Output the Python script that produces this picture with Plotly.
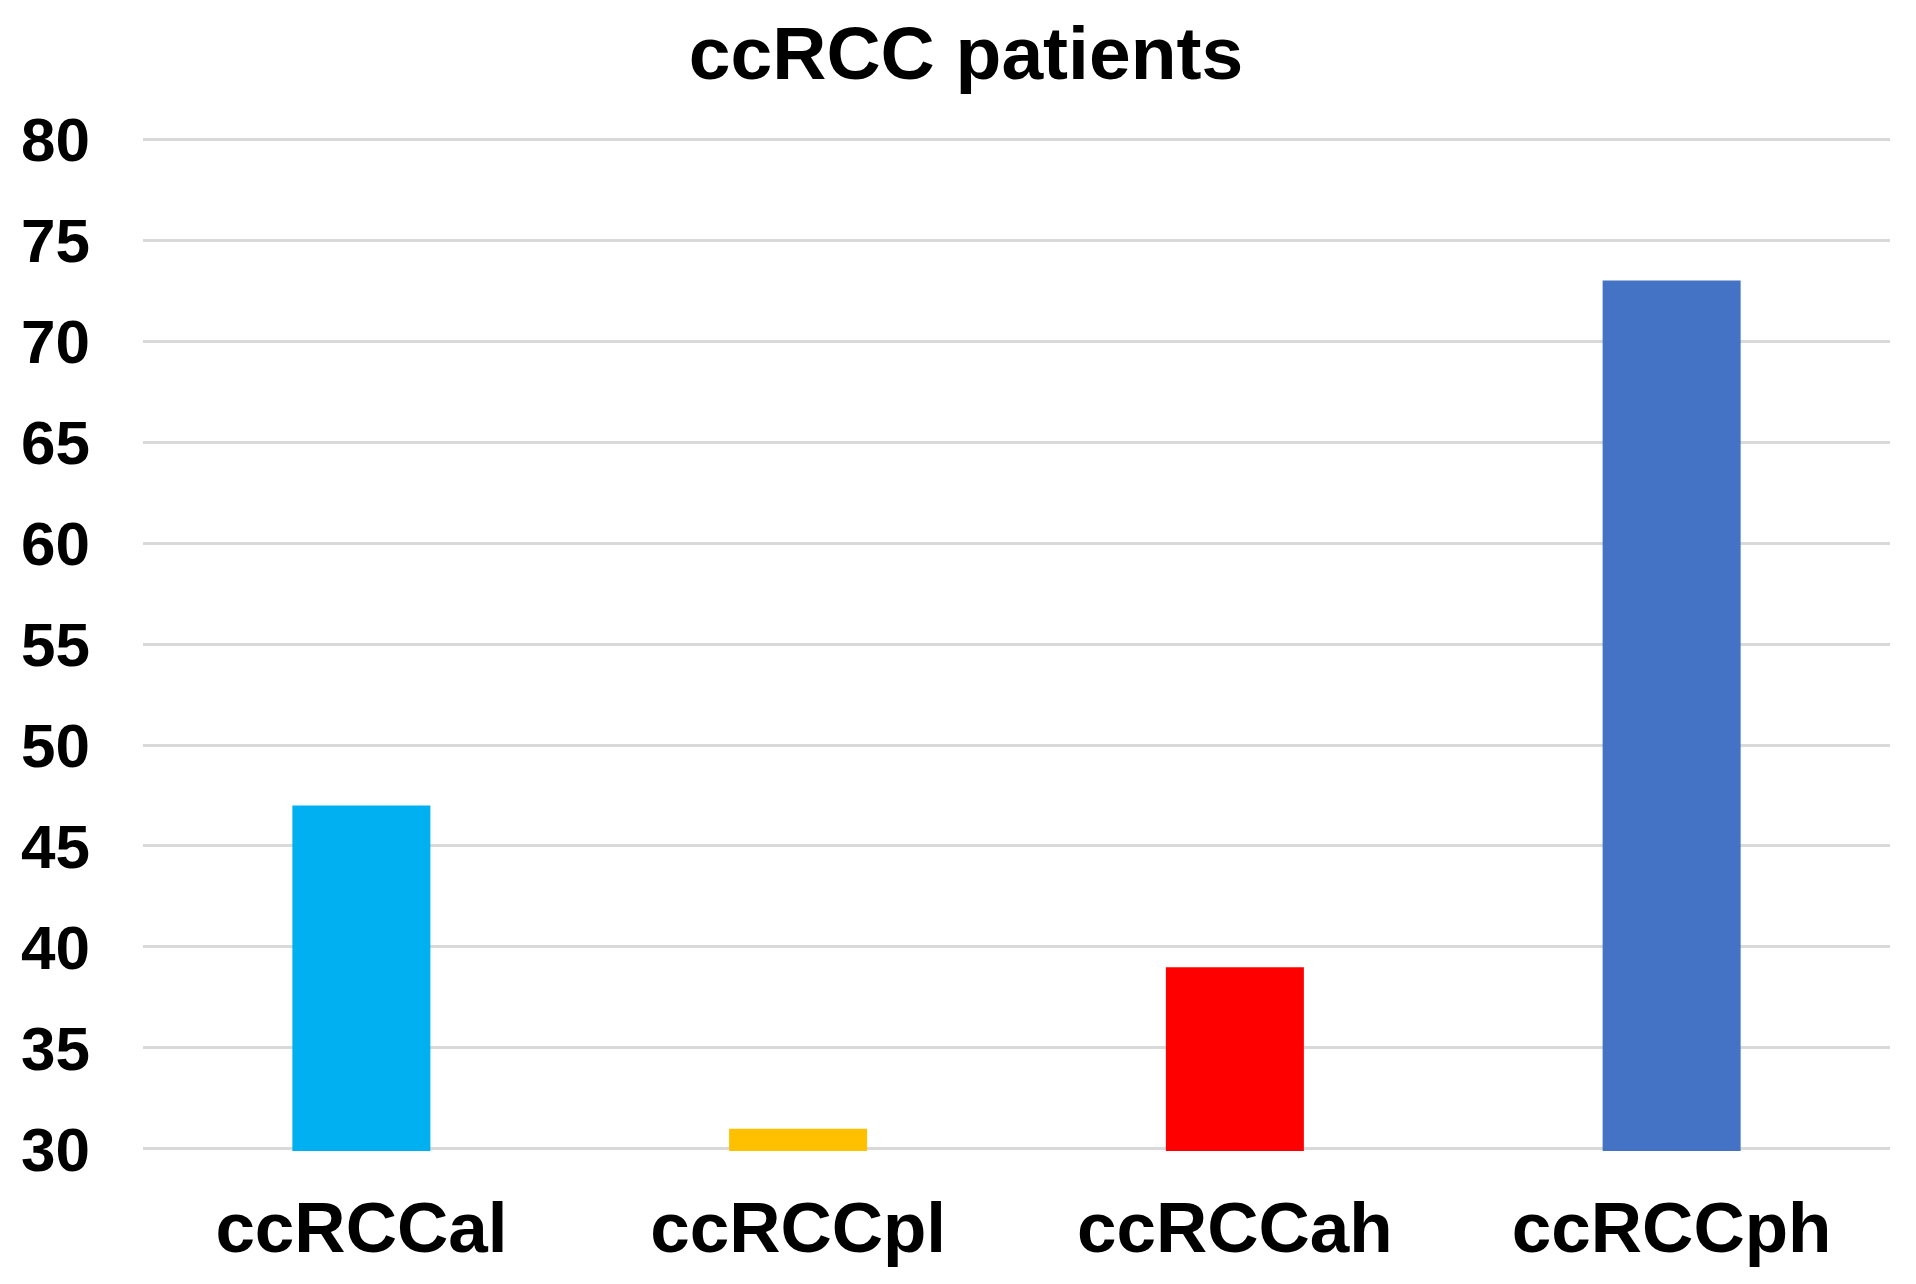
import plotly.graph_objects as go

categories = ["ccRCCal", "ccRCCpl", "ccRCCah", "ccRCCph"]
values = [47, 31, 39, 73]
colors = ["#00B0F0", "#FFC000", "#FF0000", "#4472C4"]
y_ticks = [30, 35, 40, 45, 50, 55, 60, 65, 70, 75, 80]
title_text = "ccRCC patients"

FONT = "Liberation Sans, Arial, sans-serif"

fig = go.Figure(
    go.Bar(
        x=categories,
        y=values,
        marker=dict(color=colors, line=dict(width=0)),
        width=0.316,
    )
)

fig.update_layout(
    width=1916,
    height=1284,
    margin=dict(l=135, r=34, t=129, b=141),
    paper_bgcolor="white",
    plot_bgcolor="white",
    showlegend=False,
    title=dict(
        text="<b>" + title_text + "</b>",
        x=0.5,
        xanchor="center",
        y=1 - 45 / 1284,
        yanchor="middle",
        yref="container",
        font=dict(family=FONT, size=75, color="black"),
    ),
    font=dict(family=FONT, color="black"),
)

fig.update_yaxes(
    range=[29.9, 80.1],
    tickvals=y_ticks,
    ticktext=["<b>%d</b>" % v for v in y_ticks],
    tickfont=dict(family=FONT, size=62, color="black"),
    showgrid=True,
    gridcolor="#D9D9D9",
    gridwidth=3,
    zeroline=False,
    showline=False,
    ticks="",
    ticklabelstandoff=52,
)

fig.update_xaxes(
    tickvals=categories,
    ticktext=["<b>" + c + "</b>" for c in categories],
    tickfont=dict(family=FONT, size=71, color="black"),
    showgrid=False,
    showline=False,
    ticks="",
    ticklabelstandoff=29,
)

fig.write_html("out.html")
